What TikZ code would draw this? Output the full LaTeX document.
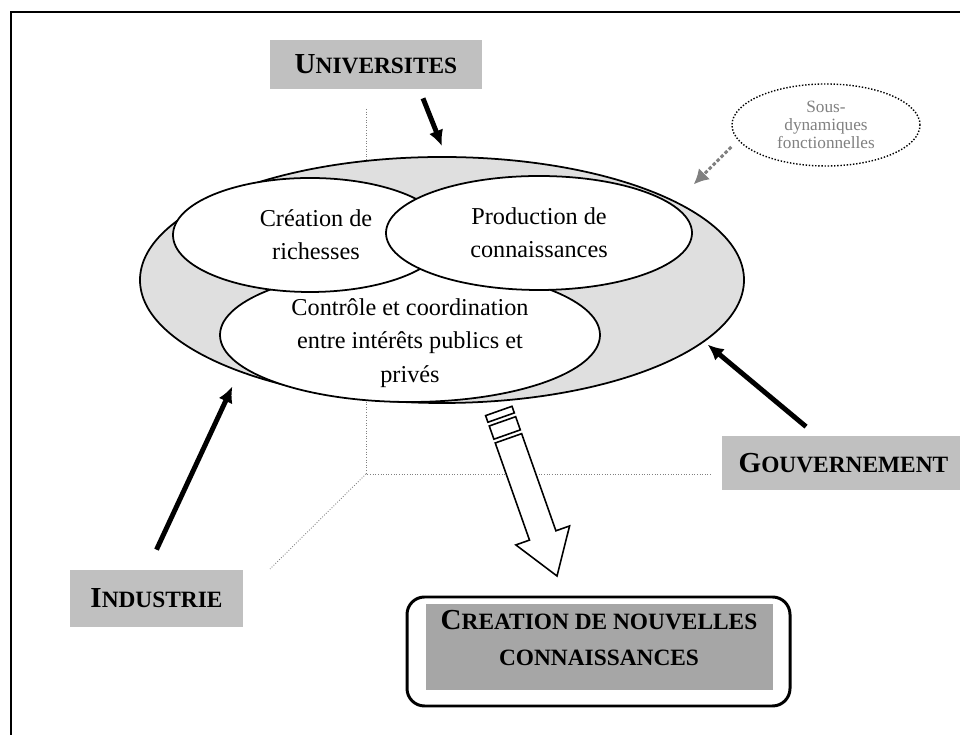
\documentclass[tikz,border=0pt]{standalone}
\usepackage{fontspec}
\setmainfont{Liberation Serif}
\usetikzlibrary{shapes.geometric,arrows.meta}
\definecolor{boxgray}{HTML}{C0C0C0}
\definecolor{ringgray}{HTML}{DFDFDF}
\definecolor{cncgray}{HTML}{A6A6A6}
\newcommand\fakesc[2]{{\fontsize{16.5}{20}\selectfont\bfseries #1}{\fontsize{13.3}{20}\selectfont\bfseries #2}}

\begin{document}
\begin{tikzpicture}[>={Latex[length=9pt,width=8.5pt]},
  actor/.style={fill=boxgray,inner sep=0},
  ell/.style={ellipse,draw,line width=1pt,fill=white,inner sep=0,align=center,font=\fontsize{13.8}{19}\selectfont},
  axis/.style={gray,densely dotted,line width=.5pt},
  push/.style={->,line width=2.8pt}]
\useasboundingbox (0,0) rectangle (19.2,14.7);
\draw[line width=1.2pt] (.22,0)--(.22,14.46)--(19.4,14.46);
% axes
\coordinate (o) at (7.32,5.22);
\draw[axis] (7.32,12.52)--(o)--(14.22,5.22);
\draw[axis] (o)--(5.4,3.32);
% sous-dynamiques
\node[ell,minimum width=12.08cm,minimum height=4.92cm,fill=ringgray] (ring) at (8.84,9.1) {};
\node[ell,minimum width=7.6cm,minimum height=2.68cm] (ctrl) at (8.2,8.0) {};
\node[ell,minimum width=5.48cm,minimum height=2.28cm] (rich) at (6.2,10.0) {\hspace{.24cm}Création de\\\hspace{.24cm}richesses};
\node[ell,minimum width=6.12cm,minimum height=2.28cm] (conn) at (10.78,10.04) {Production de\\connaissances};
\node[align=center,font=\fontsize{13.8}{19}\selectfont] (ctrltxt) at (8.2,7.84) {Contrôle et coordination\\entre intérêts publics et\\privés};
\node[ellipse,draw,densely dotted,line width=.8pt,minimum width=3.76cm,minimum height=1.64cm,inner sep=0,
  text=gray,align=center,font=\fontsize{9.8}{10.4}\selectfont] (sub) at (16.52,12.2) {Sous-\\dynamiques\\fonctionnelles};
\draw[->,gray,dash pattern=on 2pt off 1.2pt,line width=1.7pt,>={Latex[length=8.5pt,width=9pt]}] ([yshift=-.44cm]sub.west)--([shift={(.75,.16)}]ring.north east);
% acteurs
\node[actor,minimum width=4.24cm,minimum height=.98cm] (univ) at (7.52,13.41) {\fakesc{U}{NIVERSITES}};
\node[actor,minimum width=4.86cm,minimum height=1.08cm] (gouv) at (16.87,5.44) {\fakesc{G}{OUVERNEMENT}};
\node[actor,minimum width=3.46cm,minimum height=1.14cm] (ind) at (3.13,2.73) {\fakesc{I}{NDUSTRIE}};
\draw[push] ([shift={(.94,-.18)}]univ.south)--([yshift=.2cm]ring.north);
\draw[push] ([shift={(-.75,.18)}]gouv.north)--([shift={(1.03,.46)}]ring.south east);
\draw[push] ([yshift=.4cm]ind.north)--([shift={(.09,-.38)}]ring.south west);
% fleche creuse
\begin{scope}[shift={(11.14,3.18)},rotate=109.43,line width=.9pt]
\draw[fill=white] (0,0)--(.86,.57)--(.86,.28)--(2.92,.28)--(2.92,-.28)--(.86,-.28)--(.86,-.57)--cycle;
\draw[fill=white] (3,.28) rectangle (3.28,-.28);
\draw[fill=white] (3.36,.28) rectangle (3.5,-.28);
\end{scope}
\node[draw,line width=1.7pt,rounded corners=.35cm,minimum width=7.66cm,minimum height=2.18cm] (cnc) at (11.97,1.67) {};
\node[fill=cncgray,minimum width=6.94cm,minimum height=1.72cm,inner sep=0] (cncbg) at (11.99,1.76) {};
\node[align=center,font=\fontsize{13.3}{20}\selectfont] (cnctxt) at (11.98,1.94) {\fakesc{C}{REATION DE NOUVELLES}\\\fakesc{}{CONNAISSANCES}};
\end{tikzpicture}
\end{document}
